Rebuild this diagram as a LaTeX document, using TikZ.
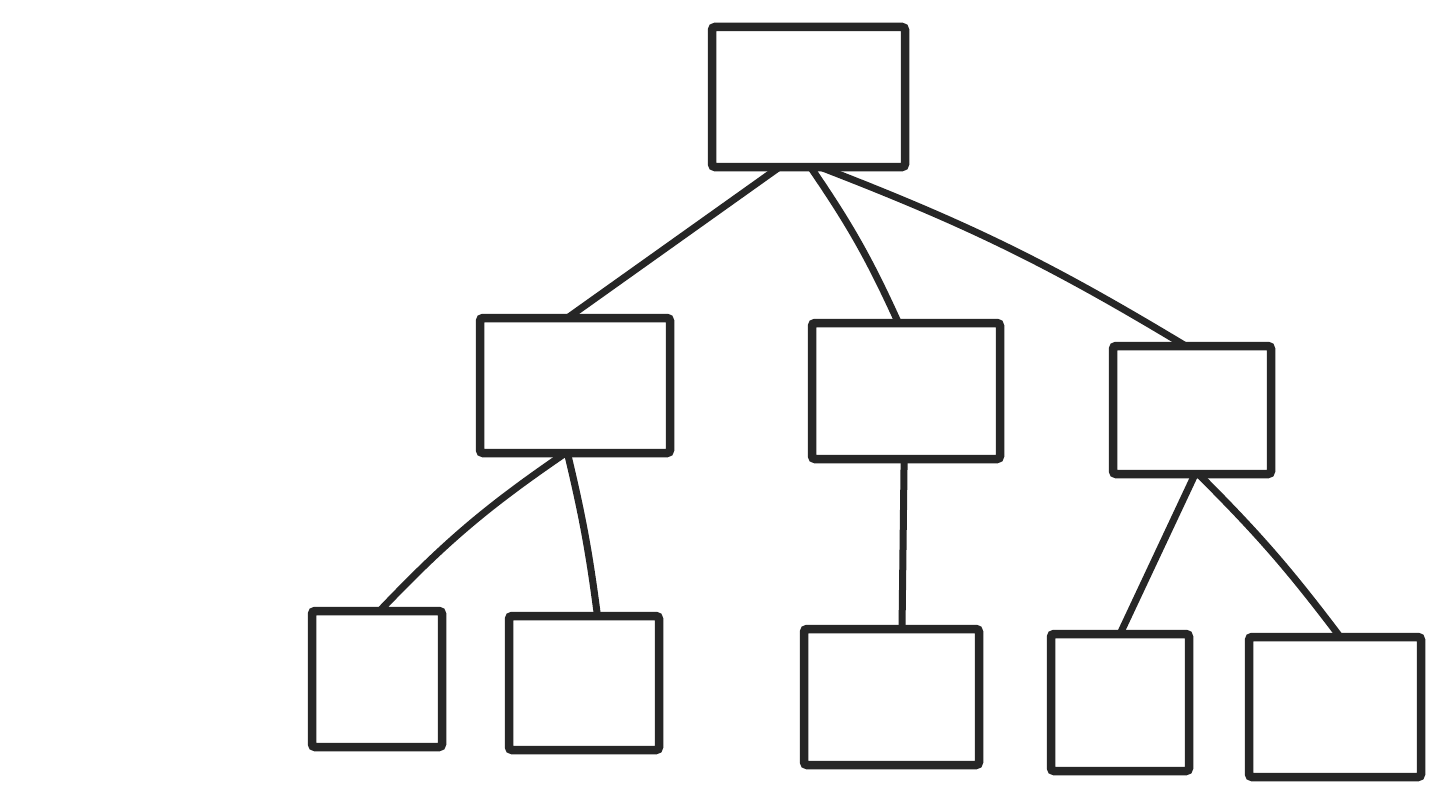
\documentclass[tikz,border=0pt]{standalone}
\usetikzlibrary{calc}
\definecolor{ink}{HTML}{262626}
\begin{document}
\begin{tikzpicture}[x=1pt,y=-1pt,
  box/.style={draw=ink,line width=8.5pt,rounded corners=3pt,inner sep=0pt,outer sep=0pt,anchor=north west},
  link/.style={draw=ink,line width=7pt,line cap=round}]
\useasboundingbox[fill=white] (0,0) rectangle (1439,800);
\node[box,minimum width=193pt,minimum height=140pt] (root) at (712,27) {};
\node[box,minimum width=190pt,minimum height=135pt] (a) at (480,318) {};
\node[box,minimum width=188pt,minimum height=136pt] (b) at (812,323) {};
\node[box,minimum width=158pt,minimum height=128pt] (c) at (1113,346) {};
\node[box,minimum width=130pt,minimum height=136pt] (aa) at (312,611) {};
\node[box,minimum width=150pt,minimum height=134pt] (ab) at (509,616) {};
\node[box,minimum width=175pt,minimum height=136pt] (ba) at (804,629) {};
\node[box,minimum width=138pt,minimum height=137pt] (ca) at (1051,634) {};
\node[box,minimum width=172pt,minimum height=140pt] (cb) at (1249,637) {};
\draw[link] ($(root.south west)!0.35!(root.south east)$) -- ($(a.north west)!0.46!(a.north east)$);
\draw[link] ($(root.south west)!0.51!(root.south east)$) to[bend left=5] ($(b.north west)!0.46!(b.north east)$);
\draw[link] ($(root.south west)!0.56!(root.south east)$) to[bend left=5] ($(c.north west)!0.46!(c.north east)$);
\draw[link] ($(a.south west)!0.45!(a.south east)$) to[bend right=6] ($(aa.north west)!0.52!(aa.north east)$);
\draw[link] ($(a.south west)!0.46!(a.south east)$) to[bend left=3] ($(ab.north west)!0.59!(ab.north east)$);
\draw[link] ($(b.south west)!0.49!(b.south east)$) -- ($(ba.north west)!0.56!(ba.north east)$);
\draw[link] ($(c.south west)!0.52!(c.south east)$) -- ($(ca.north west)!0.5!(ca.north east)$);
\draw[link] ($(c.south west)!0.54!(c.south east)$) to[bend left=4] ($(cb.north west)!0.53!(cb.north east)$);
\end{tikzpicture}
\end{document}
